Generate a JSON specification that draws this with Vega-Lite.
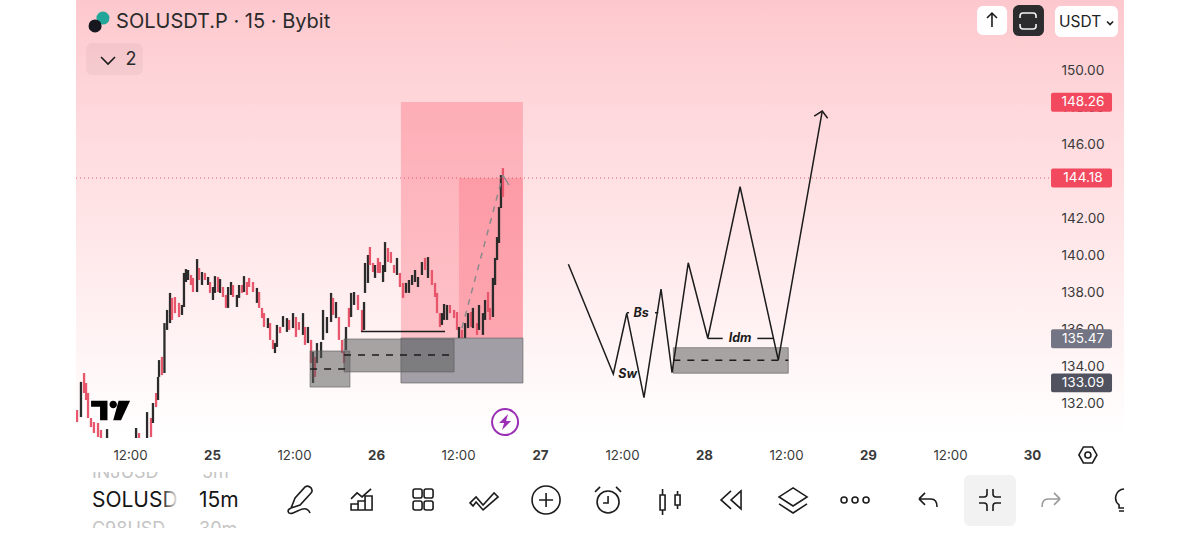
{"$schema":"https://vega.github.io/schema/vega-lite/v6.json","width":1048,"height":438,"autosize":"none","padding":{"left":76,"right":76,"top":0,"bottom":116},"background":"#ffffff","view":{"stroke":null,"fill":{"gradient":"linear","x1":0,"y1":0,"x2":0,"y2":1,"stops":[{"offset":0,"color":"#fdc8cd"},{"offset":0.22,"color":"#fed6da"},{"offset":0.52,"color":"#ffe6e8"},{"offset":1,"color":"#ffffff"}]}},
"resolve":{"scale":{"color":"independent","fill":"independent"}},
"datasets":{
"pinkZones":[{"t":26.152,"t2":26.896,"p":148.27,"p2":135.51,"k":"outer"},{"t":26.506,"t2":26.896,"p":144.16,"p2":135.51,"k":"inner"}],
"greyZones":[{"t":26.152,"t2":26.896,"p":135.51,"p2":133.08,"k":"zone"},{"t":25.598,"t2":25.841,"p":134.81,"p2":132.86,"k":"box"},{"t":25.805,"t2":26.476,"p":135.46,"p2":133.68,"k":"box"},{"t":27.813,"t2":28.514,"p":134.99,"p2":133.61,"k":"box"}],
"candles":[{"t":24.177,"p":131.62,"p2":130.97,"s":"d"},{"t":24.201,"p":133.14,"p2":131.24,"s":"u"},{"t":24.22,"p":133.62,"p2":132.54,"s":"d"},{"t":24.232,"p":133.08,"p2":132.16,"s":"d"},{"t":24.244,"p":132.54,"p2":131.19,"s":"d"},{"t":24.262,"p":131.19,"p2":130.7,"s":"d"},{"t":24.28,"p":130.97,"p2":130.38,"s":"d"},{"t":24.305,"p":130.92,"p2":130.16,"s":"d"},{"t":24.323,"p":130.54,"p2":130.0,"s":"d"},{"t":24.36,"p":130.59,"p2":130.0,"s":"u"},{"t":24.537,"p":130.65,"p2":130.0,"s":"u"},{"t":24.555,"p":130.38,"p2":130.0,"s":"d"},{"t":24.604,"p":131.51,"p2":130.0,"s":"u"},{"t":24.628,"p":131.19,"p2":130.16,"s":"d"},{"t":24.64,"p":132.0,"p2":130.92,"s":"u"},{"t":24.659,"p":132.54,"p2":131.78,"s":"d"},{"t":24.671,"p":133.41,"p2":132.16,"s":"u"},{"t":24.677,"p":134.32,"p2":133.41,"s":"u"},{"t":24.695,"p":134.49,"p2":133.51,"s":"d"},{"t":24.71,"p":136.32,"p2":133.62,"s":"u"},{"t":24.726,"p":137.03,"p2":135.95,"s":"u"},{"t":24.744,"p":137.95,"p2":136.32,"s":"u"},{"t":24.756,"p":137.68,"p2":136.49,"s":"d"},{"t":24.774,"p":137.73,"p2":136.86,"s":"d"},{"t":24.799,"p":137.41,"p2":136.65,"s":"d"},{"t":24.817,"p":137.3,"p2":136.76,"s":"u"},{"t":24.829,"p":139.03,"p2":137.19,"s":"u"},{"t":24.841,"p":139.24,"p2":138.54,"s":"u"},{"t":24.854,"p":139.19,"p2":138.65,"s":"u"},{"t":24.872,"p":138.92,"p2":138.38,"s":"d"},{"t":24.884,"p":138.76,"p2":138.0,"s":"d"},{"t":24.909,"p":139.78,"p2":138.0,"s":"u"},{"t":24.921,"p":139.3,"p2":138.65,"s":"d"},{"t":24.939,"p":139.08,"p2":138.38,"s":"u"},{"t":24.957,"p":139.03,"p2":138.65,"s":"d"},{"t":24.976,"p":138.81,"p2":138.38,"s":"u"},{"t":24.988,"p":138.54,"p2":137.95,"s":"d"},{"t":25.006,"p":138.27,"p2":137.57,"s":"u"},{"t":25.018,"p":138.86,"p2":137.95,"s":"u"},{"t":25.037,"p":138.81,"p2":138.0,"s":"d"},{"t":25.049,"p":138.7,"p2":137.95,"s":"u"},{"t":25.067,"p":138.27,"p2":137.73,"s":"d"},{"t":25.085,"p":137.84,"p2":137.14,"s":"d"},{"t":25.098,"p":138.27,"p2":137.14,"s":"u"},{"t":25.116,"p":138.54,"p2":137.84,"s":"u"},{"t":25.128,"p":138.38,"p2":137.73,"s":"d"},{"t":25.152,"p":137.84,"p2":137.19,"s":"u"},{"t":25.165,"p":138.38,"p2":137.68,"s":"u"},{"t":25.183,"p":138.38,"p2":137.95,"s":"d"},{"t":25.195,"p":138.86,"p2":138.0,"s":"u"},{"t":25.213,"p":138.54,"p2":137.84,"s":"d"},{"t":25.226,"p":138.76,"p2":138.27,"s":"d"},{"t":25.25,"p":138.54,"p2":138.0,"s":"d"},{"t":25.274,"p":138.22,"p2":137.41,"s":"u"},{"t":25.287,"p":138.0,"p2":137.14,"s":"d"},{"t":25.305,"p":137.14,"p2":136.59,"s":"d"},{"t":25.317,"p":136.86,"p2":136.11,"s":"d"},{"t":25.341,"p":136.59,"p2":136.05,"s":"u"},{"t":25.354,"p":136.32,"p2":135.41,"s":"d"},{"t":25.372,"p":135.41,"p2":134.92,"s":"d"},{"t":25.384,"p":135.24,"p2":134.7,"s":"u"},{"t":25.396,"p":136.22,"p2":135.03,"s":"u"},{"t":25.415,"p":136.11,"p2":135.78,"s":"d"},{"t":25.433,"p":136.7,"p2":136.11,"s":"u"},{"t":25.457,"p":136.59,"p2":135.84,"s":"u"},{"t":25.47,"p":136.49,"p2":135.95,"s":"d"},{"t":25.494,"p":136.86,"p2":136.05,"s":"u"},{"t":25.512,"p":136.65,"p2":135.57,"s":"d"},{"t":25.53,"p":136.38,"p2":135.95,"s":"d"},{"t":25.555,"p":136.86,"p2":135.68,"s":"u"},{"t":25.567,"p":136.11,"p2":135.14,"s":"d"},{"t":25.585,"p":136.11,"p2":135.24,"s":"u"},{"t":25.604,"p":135.41,"p2":134.16,"s":"d"},{"t":25.616,"p":134.76,"p2":133.08,"s":"u"},{"t":25.628,"p":134.49,"p2":133.41,"s":"d"},{"t":25.64,"p":135.24,"p2":134.16,"s":"u"},{"t":25.665,"p":135.3,"p2":134.43,"s":"u"},{"t":25.677,"p":137.03,"p2":135.41,"s":"u"},{"t":25.701,"p":136.65,"p2":135.78,"s":"u"},{"t":25.726,"p":137.95,"p2":136.38,"s":"u"},{"t":25.738,"p":137.68,"p2":136.76,"s":"d"},{"t":25.756,"p":137.46,"p2":136.59,"s":"u"},{"t":25.774,"p":136.65,"p2":135.41,"s":"d"},{"t":25.793,"p":135.41,"p2":134.7,"s":"d"},{"t":25.805,"p":134.76,"p2":134.16,"s":"d"},{"t":25.817,"p":136.11,"p2":134.86,"s":"u"},{"t":25.835,"p":137.14,"p2":136.11,"s":"d"},{"t":25.848,"p":137.95,"p2":136.65,"s":"u"},{"t":25.866,"p":138.0,"p2":137.3,"s":"u"},{"t":25.89,"p":137.84,"p2":137.03,"s":"d"},{"t":25.915,"p":137.03,"p2":135.84,"s":"d"},{"t":25.927,"p":137.46,"p2":135.95,"s":"u"},{"t":25.933,"p":139.57,"p2":137.95,"s":"u"},{"t":25.951,"p":140.0,"p2":138.49,"s":"u"},{"t":25.963,"p":140.43,"p2":139.46,"s":"d"},{"t":25.982,"p":139.57,"p2":139.08,"s":"d"},{"t":25.994,"p":139.46,"p2":138.76,"s":"u"},{"t":26.012,"p":139.84,"p2":139.03,"s":"d"},{"t":26.024,"p":139.62,"p2":139.03,"s":"d"},{"t":26.043,"p":139.46,"p2":138.54,"s":"u"},{"t":26.055,"p":140.7,"p2":139.08,"s":"u"},{"t":26.073,"p":140.38,"p2":139.62,"s":"d"},{"t":26.091,"p":140.16,"p2":139.57,"s":"d"},{"t":26.11,"p":139.46,"p2":139.03,"s":"d"},{"t":26.128,"p":139.84,"p2":138.92,"s":"u"},{"t":26.146,"p":139.03,"p2":138.27,"s":"d"},{"t":26.165,"p":138.49,"p2":137.68,"s":"d"},{"t":26.183,"p":138.49,"p2":137.95,"s":"u"},{"t":26.201,"p":138.65,"p2":137.95,"s":"u"},{"t":26.22,"p":138.92,"p2":138.38,"s":"u"},{"t":26.238,"p":139.19,"p2":138.54,"s":"u"},{"t":26.256,"p":138.81,"p2":138.27,"s":"u"},{"t":26.28,"p":139.62,"p2":138.92,"s":"u"},{"t":26.299,"p":139.84,"p2":139.19,"s":"d"},{"t":26.317,"p":139.89,"p2":138.76,"s":"u"},{"t":26.341,"p":139.19,"p2":138.38,"s":"d"},{"t":26.36,"p":138.49,"p2":137.73,"s":"d"},{"t":26.372,"p":137.95,"p2":136.86,"s":"d"},{"t":26.39,"p":136.86,"p2":136.11,"s":"d"},{"t":26.402,"p":136.86,"p2":136.22,"s":"u"},{"t":26.415,"p":137.35,"p2":136.49,"s":"u"},{"t":26.433,"p":137.3,"p2":136.49,"s":"u"},{"t":26.451,"p":137.3,"p2":136.86,"s":"d"},{"t":26.476,"p":137.03,"p2":136.59,"s":"d"},{"t":26.494,"p":136.92,"p2":135.95,"s":"d"},{"t":26.506,"p":136.11,"p2":135.51,"s":"u"},{"t":26.524,"p":135.95,"p2":135.51,"s":"d"},{"t":26.543,"p":136.32,"p2":135.51,"s":"u"},{"t":26.561,"p":136.86,"p2":136.05,"s":"u"},{"t":26.579,"p":136.92,"p2":136.11,"s":"d"},{"t":26.591,"p":137.14,"p2":136.05,"s":"u"},{"t":26.616,"p":136.32,"p2":135.68,"s":"d"},{"t":26.628,"p":137.3,"p2":135.95,"s":"u"},{"t":26.652,"p":136.86,"p2":135.68,"s":"u"},{"t":26.665,"p":137.57,"p2":136.49,"s":"u"},{"t":26.683,"p":138.0,"p2":136.92,"s":"d"},{"t":26.695,"p":137.14,"p2":136.49,"s":"d"},{"t":26.713,"p":138.76,"p2":136.65,"s":"u"},{"t":26.726,"p":139.84,"p2":138.38,"s":"u"},{"t":26.738,"p":140.97,"p2":139.73,"s":"u"},{"t":26.75,"p":142.59,"p2":140.65,"s":"u"},{"t":26.762,"p":144.32,"p2":142.54,"s":"u"},{"t":26.774,"p":144.7,"p2":143.14,"s":"d"}],
"solid":[{"g":"zigzag","o":0,"t":27.173,"p":139.5},{"g":"zigzag","o":1,"t":27.447,"p":133.57},{"g":"zigzag","o":2,"t":27.529,"p":136.85},{"g":"zigzag","o":3,"t":27.634,"p":132.29},{"g":"zigzag","o":4,"t":27.738,"p":138.16},{"g":"zigzag","o":5,"t":27.805,"p":133.64},{"g":"zigzag","o":6,"t":27.904,"p":139.58},{"g":"zigzag","o":7,"t":28.023,"p":135.5},{"g":"zigzag","o":8,"t":28.22,"p":143.69},{"g":"zigzag","o":9,"t":28.453,"p":134.32},{"g":"zigzag","o":10,"t":28.721,"p":147.78},{"g":"arrow","o":0,"t":28.672,"p":147.51},{"g":"arrow","o":1,"t":28.721,"p":147.78},{"g":"arrow","o":2,"t":28.754,"p":147.39},{"g":"bs1","o":0,"t":27.529,"p":136.88},{"g":"bs1","o":1,"t":27.543,"p":136.88},{"g":"bs2","o":0,"t":27.701,"p":136.88},{"g":"bs2","o":1,"t":27.721,"p":136.88},{"g":"idm1","o":0,"t":28.023,"p":135.49},{"g":"idm1","o":1,"t":28.114,"p":135.49},{"g":"idm2","o":0,"t":28.325,"p":135.49},{"g":"idm2","o":1,"t":28.423,"p":135.49},{"g":"level","o":0,"t":25.909,"p":135.86},{"g":"level","o":1,"t":26.421,"p":135.86}],
"dashed":[{"g":"a","o":0,"t":25.598,"p":133.84},{"g":"a","o":1,"t":25.841,"p":133.84},{"g":"b","o":0,"t":25.805,"p":134.59},{"g":"b","o":1,"t":26.476,"p":134.59},{"g":"c","o":0,"t":27.813,"p":134.31},{"g":"c","o":1,"t":28.514,"p":134.31}],
"projection":[{"o":0,"t":26.524,"p":136.05},{"o":1,"t":26.774,"p":144.32}],
"projectionTip":[{"o":0,"t":26.774,"p":144.32},{"o":1,"t":26.811,"p":143.78}],
"lastPrice":[{"o":0,"t":24.171,"p":144.16},{"o":1,"t":30.11,"p":144.16}],
"badges":[{"t":30.116,"t2":30.488,"p":148.77,"p2":147.75,"k":"red"},{"t":30.116,"t2":30.488,"p":144.67,"p2":143.65,"k":"red"},{"t":30.116,"t2":30.488,"p":135.98,"p2":134.96,"k":"mid"},{"t":30.116,"t2":30.488,"p":133.6,"p2":132.58,"k":"dark"}],
"badgeText":[{"t":30.311,"p":148.26,"label":"148.26"},{"t":30.311,"p":144.16,"label":"144.18"},{"t":30.311,"p":135.47,"label":"135.47"},{"t":30.311,"p":133.09,"label":"133.09"}],
"buttons":[{"t":29.665,"t2":29.848,"p":153.46,"p2":151.89,"k":"white"},{"t":29.884,"t2":30.073,"p":153.51,"p2":151.84,"k":"dark"},{"t":30.14,"t2":30.524,"p":153.46,"p2":151.78,"k":"white"},{"t":24.232,"t2":24.579,"p":151.46,"p2":149.73,"k":"tint"},{"t":29.585,"t2":29.902,"p":128.11,"p2":125.35,"k":"panel"}],
"title":[{"t":24.415,"p":152.59,"label":"SOLUSDT.P · 15 · Bybit"}],
"count":[{"t":24.506,"p":150.54,"label":"2"}],
"usdt":[{"t":30.293,"p":152.59,"label":"USDT"}],
"picker":[{"t":24.268,"p":126.7,"label":"SOLUSD"},{"t":24.921,"p":126.7,"label":"15m"}],
"ghost":[{"t":24.268,"p":127.95,"label":"INJUSD"},{"t":24.939,"p":127.95,"label":"5m"},{"t":24.268,"p":124.87,"label":"C98USD"},{"t":24.921,"p":124.87,"label":"30m"}],
"covers":[{"t":24.2,"t2":25.3,"p":128.81,"p2":128.27},{"t":24.2,"t2":25.3,"p":125.24,"p2":124.32}],
"fade":[{"t":24.69,"t2":24.8,"p":128.27,"p2":125.24}],
"notes":[{"t":27.616,"p":136.86,"label":"Bs"},{"t":27.535,"p":133.57,"label":"Sw"},{"t":28.22,"p":135.49,"label":"Idm"}],
"strokeIcons":[{"icon":"pen","t":25.537,"p":126.76},{"icon":"chart","t":25.915,"p":126.76},{"icon":"grid","t":26.287,"p":126.76},{"icon":"zig","t":26.659,"p":126.76},{"icon":"plus","t":27.037,"p":126.76},{"icon":"alarm","t":27.415,"p":126.76},{"icon":"bars","t":27.793,"p":126.76},{"icon":"rewind","t":28.171,"p":126.76},{"icon":"layers","t":28.543,"p":126.76},{"icon":"dots","t":28.921,"p":126.76},{"icon":"undo","t":29.366,"p":126.76},{"icon":"compress","t":29.744,"p":126.76},{"icon":"bulb","t":30.549,"p":126.76},{"icon":"hex","t":30.341,"p":129.19},{"icon":"up","t":29.756,"p":152.7},{"icon":"chevron","t":24.366,"p":150.54},{"icon":"small","t":30.476,"p":152.54}],
"expand":[{"icon":"expand","t":29.976,"p":152.65}],
"redo":[{"icon":"redo","t":30.116,"p":126.76}],
"bolt":[{"icon":"ring","t":26.787,"p":130.97}],
"boltFill":[{"icon":"bolt","t":26.787,"p":130.97}],
"watermark":[{"icon":"tv","t":24.378,"p":131.6}],
"coinBack":[{"t":24.335,"p":152.81}],
"coinFront":[{"t":24.287,"p":152.38}]
},
"encoding":{"x":{"field":"t","type":"quantitative","scale":{"domain":[24.1707,30.561],"nice":false,"zero":false},"axis":{"title":null,"grid":false,"domain":false,"ticks":false,"values":[24.5,25,25.5,26,26.5,27,27.5,28,28.5,29,29.5,30],"labelExpr":"datum.value % 1 == 0 ? format(datum.value,'d') : '12:00'","labelFont":"Inter","labelFontSize":13.3,"labelColor":"#3a3a3a","labelPadding":10,"labelFontWeight":{"condition":{"test":"datum.value % 1 == 0","value":"bold"},"value":"normal"},"labelOverlap":false,"labelFlush":false}},"y":{"field":"p","type":"quantitative","scale":{"domain":[130.108,153.784],"nice":false,"zero":false},"axis":{"title":null,"orient":"right","offset":-74,"grid":false,"domain":false,"ticks":false,"values":[132,134,136,138,140,142,144,146,148,150],"format":".2f","labelFont":"Inter","labelFontSize":13.6,"labelColor":"#3a3a3a","labelPadding":11,"labelAlign":"left","labelOverlap":false,"labelOffset":0.7}}},
"layer":[
{"data":{"name":"pinkZones"},"mark":{"type":"rect"},"encoding":{"x2":{"field":"t2"},"y2":{"field":"p2"},"color":{"field":"k","type":"nominal","legend":null,"scale":{"domain":["outer","inner"],"range":["rgba(250,70,90,0.28)","rgba(250,70,90,0.22)"]}}}},
{"data":{"name":"candles"},"mark":{"type":"rule","strokeWidth":2.3,"clip":true},"encoding":{"y2":{"field":"p2"},"color":{"field":"s","type":"nominal","legend":null,"scale":{"domain":["u","d"],"range":["#2b2b2b","#e8566b"]}}}},
{"data":{"name":"lastPrice"},"mark":{"type":"line","color":"#e2566a","strokeWidth":1.1,"strokeDash":[1,3]},"encoding":{"order":{"field":"o"}}},
{"data":{"name":"greyZones"},"mark":{"type":"rect","strokeWidth":1},"encoding":{"x2":{"field":"t2"},"y2":{"field":"p2"},"fill":{"field":"k","type":"nominal","legend":null,"scale":{"domain":["zone","box"],"range":["rgba(105,105,118,0.62)","rgba(95,95,95,0.55)"]}},"stroke":{"value":"rgba(90,90,90,0.6)"}}},
{"data":{"name":"solid"},"mark":{"type":"line","color":"#1c1c1c","strokeWidth":1.5},"encoding":{"detail":{"field":"g"},"order":{"field":"o"}}},
{"data":{"name":"dashed"},"mark":{"type":"line","color":"#1c1c1c","strokeWidth":1.5,"strokeDash":[7,7]},"encoding":{"detail":{"field":"g"},"order":{"field":"o"}}},
{"data":{"name":"projection"},"mark":{"type":"line","color":"#8a8a8a","strokeWidth":1.5,"strokeDash":[6,6]},"encoding":{"order":{"field":"o"}}},
{"data":{"name":"projectionTip"},"mark":{"type":"line","color":"#8a8a8a","strokeWidth":1.2},"encoding":{"order":{"field":"o"}}},
{"data":{"name":"notes"},"mark":{"type":"text","font":"Inter","fontSize":12.5,"fontWeight":"bold","fontStyle":"italic","color":"#1c1c1c","baseline":"middle"},"encoding":{"text":{"field":"label"}}},
{"data":{"name":"badges"},"mark":{"type":"rect","cornerRadius":2},"encoding":{"x2":{"field":"t2"},"y2":{"field":"p2"},"color":{"field":"k","type":"nominal","legend":null,"scale":{"domain":["red","mid","dark"],"range":["#f2495e","#737584","#50535f"]}}}},
{"data":{"name":"badgeText"},"mark":{"type":"text","font":"Inter","fontSize":13.6,"color":"#ffffff","baseline":"middle"},"encoding":{"text":{"field":"label"}}},
{"data":{"name":"buttons"},"mark":{"type":"rect","cornerRadius":6},"encoding":{"x2":{"field":"t2"},"y2":{"field":"p2"},"fill":{"field":"k","type":"nominal","legend":null,"scale":{"domain":["white","dark","tint","panel"],"range":["#ffffff","#2c2c2e","rgba(0,0,0,0.035)","#f2f2f2"]}}}},
{"data":{"name":"coinBack"},"mark":{"type":"point","filled":true,"shape":"circle","size":170,"color":"#22a69a","opacity":1}},
{"data":{"name":"coinFront"},"mark":{"type":"point","filled":true,"shape":"circle","size":170,"color":"#17171f","opacity":1}},
{"data":{"name":"title"},"mark":{"type":"text","font":"Inter","fontSize":20,"color":"#2a2a2a","align":"left","baseline":"middle"},"encoding":{"text":{"field":"label"}}},
{"data":{"name":"count"},"mark":{"type":"text","font":"Inter","fontSize":18,"color":"#2a2a2a","baseline":"middle"},"encoding":{"text":{"field":"label"}}},
{"data":{"name":"usdt"},"mark":{"type":"text","font":"Inter","fontSize":15.5,"color":"#222222","baseline":"middle"},"encoding":{"text":{"field":"label"}}},
{"data":{"name":"ghost"},"mark":{"type":"text","font":"Inter","fontSize":18,"color":"#c4c4c4","align":"left","baseline":"alphabetic"},"encoding":{"text":{"field":"label"}}},
{"data":{"name":"covers"},"mark":{"type":"rect","fill":"#ffffff"},"encoding":{"x2":{"field":"t2"},"y2":{"field":"p2"}}},
{"data":{"name":"picker"},"mark":{"type":"text","font":"Inter","fontSize":21,"color":"#151515","align":"left","baseline":"middle"},"encoding":{"text":{"field":"label"}}},
{"data":{"name":"fade"},"mark":{"type":"rect","fill":{"gradient":"linear","x1":0,"y1":0,"x2":1,"y2":0,"stops":[{"offset":0,"color":"rgba(255,255,255,0)"},{"offset":1,"color":"rgba(255,255,255,1)"}]}},"encoding":{"x2":{"field":"t2"},"y2":{"field":"p2"}}},
{"data":{"name":"strokeIcons"},"mark":{"type":"point","filled":false,"size":4,"color":"#1c1c1c","strokeWidth":1.6,"opacity":1},"encoding":{"shape":{"field":"icon","type":"nominal","legend":null,"scale":{"domain":["pen","chart","grid","zig","plus","alarm","bars","rewind","layers","dots","undo","compress","bulb","hex","up","chevron","small"],"range":["M-9,8 L-5,-2 L5,-13 Q8,-15 11,-12 Q13,-9 11,-7 L0,5 Z M-9,8 C-14,10 -12,15 -7,13 C-2,11 2,8 6,9 Q9,10 10,13","M-11,4h7v6h-7z M-4,1h7v9h-7z M3,-4h7v14h-7z M-11,-1 L-5,-7 L0,-3 L9,-11","M-8,-11h5a2,2 0 0 1 2,2v5a2,2 0 0 1 -2,2h-5a2,2 0 0 1 -2,-2v-5a2,2 0 0 1 2,-2z M3,-11h5a2,2 0 0 1 2,2v5a2,2 0 0 1 -2,2h-5a2,2 0 0 1 -2,-2v-5a2,2 0 0 1 2,-2z M-8,1h5a2,2 0 0 1 2,2v5a2,2 0 0 1 -2,2h-5a2,2 0 0 1 -2,-2v-5a2,2 0 0 1 2,-2z M3,1h5a2,2 0 0 1 2,2v5a2,2 0 0 1 -2,2h-5a2,2 0 0 1 -2,-2v-5a2,2 0 0 1 2,-2z","M-14,3 L-8,-3 L-1,5 L10,-7 L14,-3 L-1,10 L-8,2 L-11,6 Z","M-14,0a14,14 0 1 0 28,0a14,14 0 1 0 -28,0M-7,0h14M0,-7v14","M-11,2a11,11 0 1 0 22,0a11,11 0 1 0 -22,0M0,-4v7h-5 M-13,-8L-8,-13 M13,-8L8,-13","M-10,-5h5v15h-5z M-7.5,-5v-6 M-7.5,10v5 M5,-5h5v10h-5z M7.5,-5v-4 M7.5,5v4","M-1,-9L-11,0L-1,9 M9,-9L-1,0L9,9Z","M0,-12 L14,-3 L0,6 L-14,-3 Z M-14,4 L0,13 L14,4","M-14,0a3,3 0 1 0 6,0a3,3 0 1 0 -6,0 M-3,0a3,3 0 1 0 6,0a3,3 0 1 0 -6,0 M8,0a3,3 0 1 0 6,0a3,3 0 1 0 -6,0","M-9,-1 L-3,-7 M-9,-1 L-3,5 M-9,-1 H3 Q9,-1 9,7","M-3,-11V-6Q-3,-3 -6,-3H-11 M3,-11V-6Q3,-3 6,-3H11 M-3,11V6Q-3,3 -6,3H-11 M3,11V6Q3,3 6,3H11","M2,-11 A9,9 0 0 0 -3,5 V8 H2 M-3,11H2","M-9,0 L-4.5,-8 H4.5 L9,0 L4.5,8 H-4.5 Z M-3,0a3,3 0 1 0 6,0a3,3 0 1 0 -6,0","M0,7V-7 M-5,-2 L0,-7 L5,-2","M-7,-3 L0,4 L7,-3","M-3,-1.5 L0,1.5 L3,-1.5"]}}}},
{"data":{"name":"expand"},"mark":{"type":"point","filled":false,"size":4,"color":"#f2f2f2","strokeWidth":1.6,"opacity":1,"shape":"M-8,-3 V-5 Q-8,-8 -5,-8 H5 Q8,-8 8,-5 V-3 M-8,3 V5 Q-8,8 -5,8 H5 Q8,8 8,5 V3"}},
{"data":{"name":"redo"},"mark":{"type":"point","filled":false,"size":4,"color":"#9a9a9a","strokeWidth":1.6,"opacity":1,"shape":"M9,-1 L3,-7 M9,-1 L3,5 M9,-1 H-3 Q-9,-1 -9,7"}},
{"data":{"name":"bolt"},"mark":{"type":"point","filled":false,"size":4,"color":"#9a2fb5","strokeWidth":2,"opacity":1,"shape":"M-13,0a13,13 0 1 0 26,0a13,13 0 1 0 -26,0"}},
{"data":{"name":"boltFill"},"mark":{"type":"point","filled":true,"size":4,"color":"#9a2fb5","opacity":1,"shape":"M3,-8 L-6,1 H-1 L-3,8 L6,-1 H1 Z"}},
{"data":{"name":"watermark"},"mark":{"type":"point","filled":true,"size":1521,"color":"#000000","opacity":1,"shape":"M-0.97,-0.5 L-0.13,-0.5 L-0.13,0.5 L-0.51,0.5 L-0.51,-0.19 L-0.97,-0.19 Z M-0.025,-0.3 a0.19,0.19 0 1 0 0.38,0 a0.19,0.19 0 1 0 -0.38,0 M0.44,-0.5 L1.03,-0.5 L0.565,0.5 L0.165,0.5 Z"}}
]}
